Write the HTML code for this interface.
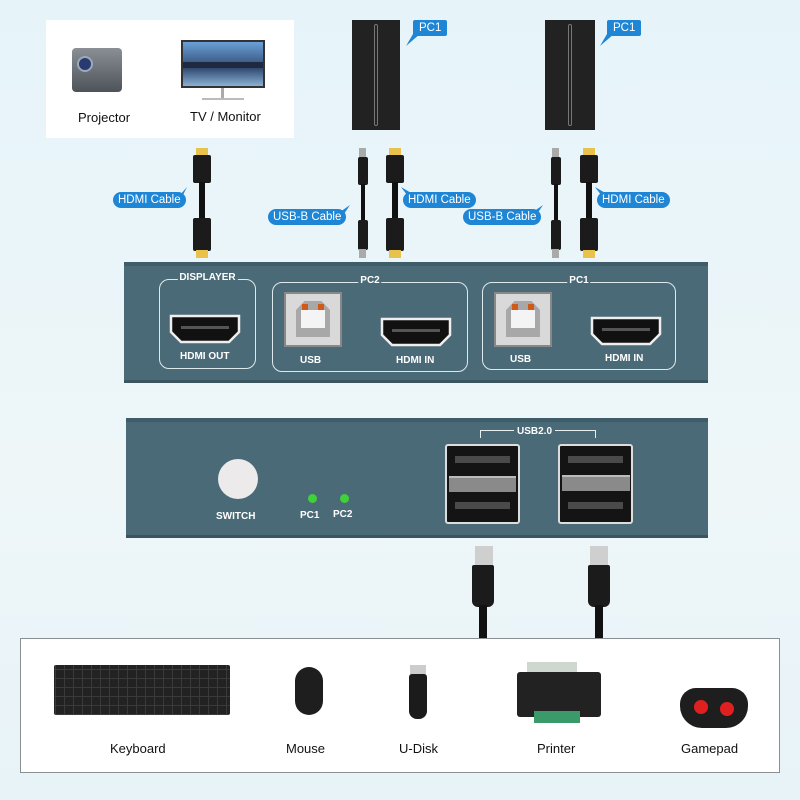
<!DOCTYPE html>
<html><head><meta charset="utf-8">
<style>
*{margin:0;padding:0;box-sizing:border-box}
body{width:800px;height:800px;overflow:hidden;background:linear-gradient(180deg,#e6f4fa,#eef6f8 60%,#e8f3f8);font-family:"Liberation Sans",sans-serif;position:relative}
.a{position:absolute}
.lbl{position:absolute;background:#1f86d6;color:#fff;font-size:11.5px;border-radius:8px;padding:1px 5px;height:16px;line-height:14px;white-space:nowrap}
.tip{position:absolute;background:#e8c24a}
.plug{position:absolute;background:#1b1b1b;border-radius:2px}
.wire{position:absolute;background:#111}
.panel{position:absolute;background:#4b6a77;border-top:4px solid #3f5d69;border-bottom:3px solid #3a5560}
.grp{position:absolute;border:1.5px solid #dfe9ec;border-radius:10px}
.gt{position:absolute;top:-8px;background:#4b6a77;color:#fff;font-size:10px;font-weight:bold;padding:0 2px;left:50%;transform:translateX(-50%)}
.pt{position:absolute;color:#fff;font-size:10px;font-weight:bold;white-space:nowrap}
.usbb{position:absolute;width:58px;height:55px;background:#d9d9d9;border:2px solid #888}
.dlbl{position:absolute;font-size:13px;color:#111}
.port{position:absolute;width:75px;height:80px;background:#141414;border:2px solid #ddd;border-radius:3px}
.slot{position:absolute;left:8px;width:55px;height:7px;background:#4a4a4a}
.kb{position:absolute;left:54px;top:665px;width:176px;height:50px;background:#222;border-radius:2px;background-image:linear-gradient(90deg,transparent 7px,#3a3a3a 7px,#3a3a3a 8px,transparent 8px),linear-gradient(0deg,transparent 7px,#3a3a3a 7px,#3a3a3a 8px,transparent 8px);background-size:9px 9px;background-position:3px 3px}
</style></head><body>

<div class="a" style="left:46px;top:20px;width:248px;height:118px;background:#fff"></div>
<div class="a" style="left:72px;top:48px;width:50px;height:44px;background:linear-gradient(#8a8f96,#4e535a);border-radius:4px"></div>
<div class="a" style="left:77px;top:56px;width:16px;height:16px;border-radius:50%;background:#2a3a70;border:2px solid #9ab"></div>
<div class="a" style="left:181px;top:40px;width:84px;height:48px;background:linear-gradient(#6aa0d8,#304a70 60%,#8bb1d5);border:2px solid #333"></div>
<div class="a" style="left:183px;top:62px;width:80px;height:6px;background:#1f2a40"></div>
<div class="a" style="left:221px;top:88px;width:3px;height:10px;background:#aaa"></div>
<div class="a" style="left:202px;top:98px;width:42px;height:2px;background:#bbb"></div>
<div class="dlbl" style="left:78px;top:110px">Projector</div>
<div class="dlbl" style="left:190px;top:109px">TV / Monitor</div>

<div class="a" style="left:352px;top:20px;width:48px;height:110px;background:#222"></div>
<div class="a" style="left:374px;top:24px;width:4px;height:102px;border:1px solid #777;border-radius:2px"></div>
<div class="a" style="left:545px;top:20px;width:50px;height:110px;background:#222"></div>
<div class="a" style="left:568px;top:24px;width:4px;height:102px;border:1px solid #777;border-radius:2px"></div>
<div class="lbl" style="left:413px;top:20px;border-radius:2px;padding:1px 6px">PC1</div>
<div class="lbl" style="left:607px;top:20px;border-radius:2px;padding:1px 6px">PC1</div>
<svg class="a" style="left:0;top:0" width="800" height="260">
<path d="M413 34 L406 46 L420 34Z" fill="#1f86d6"/>
<path d="M607 34 L600 46 L614 34Z" fill="#1f86d6"/>
<path d="M180 195 L187 187 L182 197Z" fill="#1f86d6"/>
<path d="M340 212 L350 205 L344 214Z" fill="#1f86d6"/>
<path d="M407 195 L401 187 L413 194Z" fill="#1f86d6"/>
<path d="M533 212 L543 205 L537 214Z" fill="#1f86d6"/>
<path d="M601 195 L595 187 L607 194Z" fill="#1f86d6"/>
</svg>

<div class="tip" style="left:196px;top:148px;width:12px;height:8px"></div>
<div class="plug" style="left:193px;top:155px;width:18px;height:28px"></div>
<div class="wire" style="left:199px;top:182px;width:6px;height:38px"></div>
<div class="plug" style="left:193px;top:218px;width:18px;height:33px"></div>
<div class="tip" style="left:196px;top:250px;width:12px;height:8px"></div>
<div class="tip" style="left:359px;top:148px;width:7px;height:10px;background:#aaa"></div>
<div class="plug" style="left:358px;top:157px;width:10px;height:28px"></div>
<div class="wire" style="left:361px;top:184px;width:4px;height:38px"></div>
<div class="plug" style="left:358px;top:220px;width:10px;height:30px"></div>
<div class="tip" style="left:359px;top:249px;width:7px;height:9px;background:#aaa"></div>
<div class="tip" style="left:389px;top:148px;width:12px;height:8px"></div>
<div class="plug" style="left:386px;top:155px;width:18px;height:28px"></div>
<div class="wire" style="left:392px;top:182px;width:6px;height:38px"></div>
<div class="plug" style="left:386px;top:218px;width:18px;height:33px"></div>
<div class="tip" style="left:389px;top:250px;width:12px;height:8px"></div>
<div class="tip" style="left:552px;top:148px;width:7px;height:10px;background:#aaa"></div>
<div class="plug" style="left:551px;top:157px;width:10px;height:28px"></div>
<div class="wire" style="left:554px;top:184px;width:4px;height:38px"></div>
<div class="plug" style="left:551px;top:220px;width:10px;height:30px"></div>
<div class="tip" style="left:552px;top:249px;width:7px;height:9px;background:#aaa"></div>
<div class="tip" style="left:583px;top:148px;width:12px;height:8px"></div>
<div class="plug" style="left:580px;top:155px;width:18px;height:28px"></div>
<div class="wire" style="left:586px;top:182px;width:6px;height:38px"></div>
<div class="plug" style="left:580px;top:218px;width:18px;height:33px"></div>
<div class="tip" style="left:583px;top:250px;width:12px;height:8px"></div>

<div class="lbl" style="left:113px;top:192px">HDMI Cable</div>
<div class="lbl" style="left:268px;top:209px">USB-B Cable</div>
<div class="lbl" style="left:403px;top:192px">HDMI Cable</div>
<div class="lbl" style="left:463px;top:209px">USB-B Cable</div>
<div class="lbl" style="left:597px;top:192px">HDMI Cable</div>

<div class="panel" style="left:124px;top:262px;width:584px;height:121px"></div>
<div class="grp" style="left:159px;top:279px;width:97px;height:90px"><div class="gt">DISPLAYER</div></div>
<div class="grp" style="left:272px;top:282px;width:196px;height:90px"><div class="gt">PC2</div></div>
<div class="grp" style="left:482px;top:282px;width:194px;height:88px"><div class="gt">PC1</div></div>

<svg class="a" style="left:0;top:0" width="800" height="800">
<defs><g id="h"><path d="M2 2 H70 V18 L60 28 H12 L2 18 Z" fill="#111" stroke="#eee" stroke-width="2.5"/><rect x="12" y="12" width="48" height="3" fill="#555"/></g></defs>
<use href="#h" x="169" y="314"/>
<use href="#h" x="380" y="317"/>
<use href="#h" x="590" y="316"/>
</svg>
<div class="usbb" style="left:284px;top:292px"><div class="a" style="left:10px;top:7px;width:34px;height:36px;background:#a8a8a8;clip-path:polygon(25% 0,75% 0,100% 25%,100% 100%,0 100%,0 25%)"></div><div class="a" style="left:15px;top:16px;width:24px;height:18px;background:#f4f4f4"></div><div class="a" style="left:16px;top:10px;width:6px;height:6px;background:#d05a1c"></div><div class="a" style="left:32px;top:10px;width:6px;height:6px;background:#d05a1c"></div></div>
<div class="usbb" style="left:494px;top:292px"><div class="a" style="left:10px;top:7px;width:34px;height:36px;background:#a8a8a8;clip-path:polygon(25% 0,75% 0,100% 25%,100% 100%,0 100%,0 25%)"></div><div class="a" style="left:15px;top:16px;width:24px;height:18px;background:#f4f4f4"></div><div class="a" style="left:16px;top:10px;width:6px;height:6px;background:#d05a1c"></div><div class="a" style="left:32px;top:10px;width:6px;height:6px;background:#d05a1c"></div></div>
<div class="pt" style="left:180px;top:351px">HDMI OUT</div>
<div class="pt" style="left:300px;top:355px">USB</div>
<div class="pt" style="left:396px;top:355px">HDMI IN</div>
<div class="pt" style="left:510px;top:354px">USB</div>
<div class="pt" style="left:605px;top:353px">HDMI IN</div>

<div class="panel" style="left:126px;top:418px;width:582px;height:120px"></div>
<div class="a" style="left:218px;top:459px;width:40px;height:40px;border-radius:50%;background:#eceaea"></div>
<div class="pt" style="left:216px;top:511px">SWITCH</div>
<div class="a" style="left:308px;top:494px;width:9px;height:9px;border-radius:50%;background:#3fd13a"></div>
<div class="a" style="left:340px;top:494px;width:9px;height:9px;border-radius:50%;background:#3fd13a"></div>
<div class="pt" style="left:300px;top:510px">PC1</div>
<div class="pt" style="left:333px;top:509px">PC2</div>
<div class="a" style="left:480px;top:430px;width:116px;height:8px;border:1.5px solid #e8eef0;border-bottom:none"></div>
<div class="pt" style="left:514px;top:426px;background:#4b6a77;padding:0 3px">USB2.0</div>
<div class="port" style="left:445px;top:444px"><div class="slot" style="top:10px"></div><div class="slot" style="top:56px"></div></div>
<div class="a" style="left:449px;top:476px;width:67px;height:16px;background:#8a8a8a;border-top:2px solid #bbb"></div>
<div class="port" style="left:558px;top:444px"><div class="slot" style="top:10px"></div><div class="slot" style="top:56px"></div></div>
<div class="a" style="left:562px;top:475px;width:68px;height:16px;background:#8a8a8a;border-top:2px solid #bbb"></div>

<div class="tip" style="left:475px;top:546px;width:18px;height:20px;background:#cfcfcf"></div>
<div class="plug" style="left:472px;top:565px;width:22px;height:42px;border-radius:2px 2px 6px 6px"></div>
<div class="wire" style="left:479px;top:605px;width:8px;height:35px"></div>
<div class="tip" style="left:590px;top:546px;width:18px;height:20px;background:#cfcfcf"></div>
<div class="plug" style="left:588px;top:565px;width:22px;height:42px;border-radius:2px 2px 6px 6px"></div>
<div class="wire" style="left:595px;top:605px;width:8px;height:35px"></div>

<div class="a" style="left:20px;top:638px;width:760px;height:135px;background:#fff;border:1.5px solid #8a8f92"></div>
<div class="kb"></div>
<div class="a" style="left:295px;top:667px;width:28px;height:48px;background:#1e1e1e;border-radius:14px"></div>
<div class="a" style="left:410px;top:665px;width:16px;height:10px;background:#ccc"></div>
<div class="a" style="left:409px;top:674px;width:18px;height:45px;background:#1b1b1b;border-radius:3px 3px 8px 8px"></div>
<div class="a" style="left:527px;top:662px;width:50px;height:12px;background:#cfd8cf"></div>
<div class="a" style="left:517px;top:672px;width:84px;height:45px;background:#222;border-radius:3px"></div>
<div class="a" style="left:534px;top:711px;width:46px;height:12px;background:#3a9a6a"></div>
<div class="a" style="left:680px;top:688px;width:68px;height:40px;background:#1e1e1e;border-radius:16px 16px 22px 22px"></div>
<div class="a" style="left:694px;top:700px;width:14px;height:14px;border-radius:50%;background:#e02020"></div>
<div class="a" style="left:720px;top:702px;width:14px;height:14px;border-radius:50%;background:#e02020"></div>
<div class="dlbl" style="left:110px;top:741px">Keyboard</div>
<div class="dlbl" style="left:286px;top:741px">Mouse</div>
<div class="dlbl" style="left:399px;top:741px">U-Disk</div>
<div class="dlbl" style="left:537px;top:741px">Printer</div>
<div class="dlbl" style="left:681px;top:741px">Gamepad</div>
</body></html>
